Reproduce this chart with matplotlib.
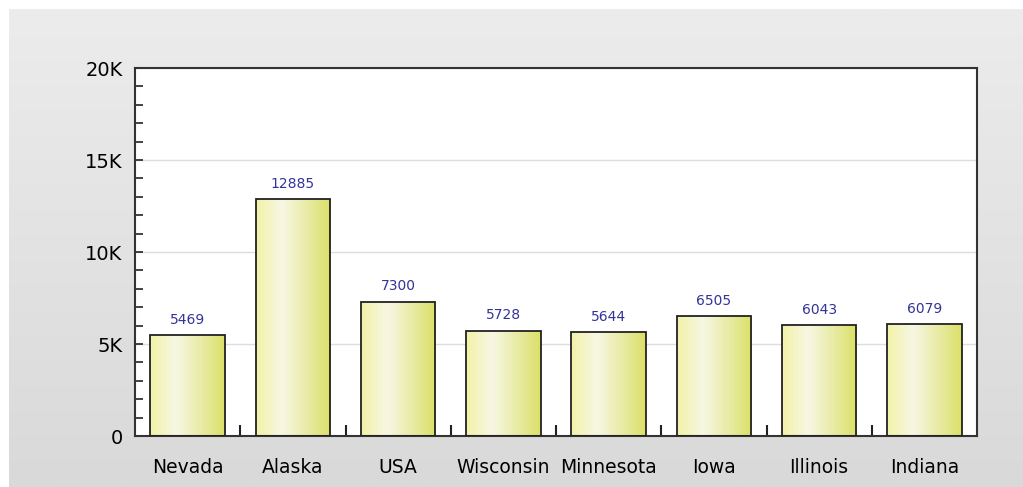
import numpy as np
import matplotlib.pyplot as plt
from matplotlib.colors import LinearSegmentedColormap
from matplotlib.patches import Rectangle

# chart data
states = ["Nevada", "Alaska", "USA", "Wisconsin", "Minnesota", "Iowa", "Illinois", "Indiana"]
values = [5469, 12885, 7300, 5728, 5644, 6505, 6043, 6079]
ytick_vals = [0, 5000, 10000, 15000, 20000]
ytick_labels = ["0", "5K", "10K", "15K", "20K"]

plt.rcParams["font.family"] = ["DejaVu Sans"]

fig = plt.figure(figsize=(10.23, 4.87), dpi=100)
fig.patch.set_facecolor("white")

# gray panel behind the chart, slightly darker towards the bottom
bg = fig.add_axes([9 / 1023, 0, 1 - 9 / 1023, 1 - 9 / 487])
bg_cmap = LinearSegmentedColormap.from_list("bg", ["#ececec", "#d9d9d9"])
bg.imshow(np.linspace(0, 1, 256).reshape(-1, 1), aspect="auto", cmap=bg_cmap,
          extent=[0, 1, 0, 1], origin="upper")
bg.set_axis_off()

ax = fig.add_axes([135 / 1023, 51 / 487, 842 / 1023, 368 / 487])
ax.set_facecolor("white")

x = np.arange(len(states))
bar_cmap = LinearSegmentedColormap.from_list(
    "bar", [(0, "#f2f2a8"), (0.35, "#f7f7e4"), (1, "#dbe068")])
grad = np.linspace(0, 1, 256).reshape(1, -1)

bars = ax.bar(x, values, width=0.71, facecolor="none", edgecolor="#222222",
              linewidth=1.3, zorder=3)
for b in bars:
    x0, w, h = b.get_x(), b.get_width(), b.get_height()
    im = ax.imshow(grad, aspect="auto", cmap=bar_cmap, extent=[x0, x0 + w, 0, h],
                   zorder=2)
    clip = Rectangle((x0, 0), w, h, transform=ax.transData)
    im.set_clip_path(clip)

for xi, v in zip(x, values):
    ax.text(xi, v + 450, str(v), ha="center", va="bottom", fontsize=10,
            color="#333399")

ax.set_xlim(-0.5, len(states) - 0.5)
ax.set_ylim(0, 20000)

ax.set_yticks(ytick_vals)
ax.set_yticklabels(ytick_labels, fontsize=14)
ax.set_yticks(np.arange(0, 20001, 1000), minor=True)
ax.tick_params(axis="y", which="both", direction="in", length=6, width=1.2,
               color="#222222", pad=9)
ax.yaxis.grid(True, color="#dddddd", linewidth=1, zorder=0)
ax.set_axisbelow(True)

ax.set_xticks(x)
ax.set_xticklabels(states, fontsize=13.5)
ax.set_xticks(x[:-1] + 0.5, minor=True)
ax.tick_params(axis="x", which="major", length=0, pad=16)
ax.tick_params(axis="x", which="minor", direction="in", length=8, width=1.5,
               color="#222222")

for s in ax.spines.values():
    s.set_color("#333333")
    s.set_linewidth(1.5)

fig.savefig("out.png", dpi=100, facecolor=fig.get_facecolor())
